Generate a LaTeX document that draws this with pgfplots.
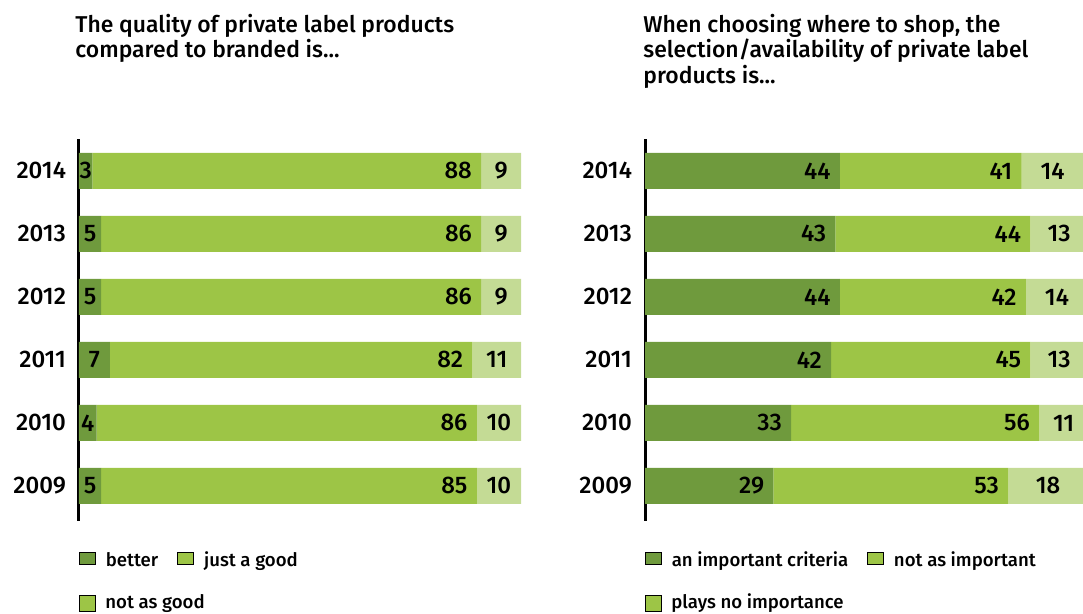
\documentclass[border=0pt]{standalone}
\usepackage{fontspec}
\setmainfont{Fira Sans}[BoldFont={Fira Sans Medium}]
\usepackage{pgfplots}
\usepackage{pgfplotstable}
\pgfplotsset{compat=1.18}
\definecolor{cdark}{HTML}{6F9A3D}
\definecolor{cmid}{HTML}{9DC546}
\definecolor{clight}{HTML}{C4DB95}

\pgfplotstableread{
y d m l
5 3 88 9
4 5 86 9
3 5 86 9
2 7 82 11
1 4 86 10
0 5 85 10
}\quality
\pgfplotstableread{
y d m l
5 44 41 14
4 43 44 13
3 44 42 14
2 42 45 13
1 33 56 11
0 29 53 18
}\selection

\tikzset{lab/.style={font=\fontsize{12}{14}\selectfont\bfseries, inner sep=0pt}}
\pgfplotsset{
  geom/.style={
    scale only axis, width=221pt, height=190.6pt,
    anchor=south west,
    xmin=0, xmax=100, ymin=-0.55, ymax=5.5,
    clip=false,
    legend cell align=left,
    legend style={draw=none, fill=none, inner sep=0pt, outer sep=0pt,
      at={(0,0)}, anchor=north west,
      font=\fontsize{9.3}{11}\selectfont\bfseries,
      nodes={inner xsep=0pt, inner ysep=0pt, text height=7.5pt, text depth=2pt},
      /tikz/every odd column/.append style={column sep=5pt},
      /tikz/every even column/.append style={column sep=9.5pt}},
    legend image code/.code={\fill[##1] (0pt,-3.9pt) rectangle (7.8pt,3.9pt);},
  },
  panel/.style={geom,
    xbar stacked, bar width=18pt,
    axis x line=none, axis y line*=left,
    y axis line style={line width=1.5pt, black},
    ytick={0,1,2,3,4,5},
    yticklabels={2009,2010,2011,2012,2013,2014},
    major tick length=0pt,
    yticklabel style={font=\fontsize{12}{14}\selectfont\bfseries, xshift=-3pt},
    legend columns=-1,
    legend style={yshift=-15.3pt},
  },
  ov/.style={geom, hide axis,
    legend style={yshift=-36.6pt}},
  lbl/.style={draw=none, mark=none, nodes near coords, point meta=explicit symbolic,
    nodes near coords style={lab, anchor=center}},
  lblr/.style={draw=none, mark=none, nodes near coords, point meta=explicit symbolic,
    nodes near coords style={lab, anchor=east, xshift=-4.5pt}},
}

\begin{document}
\begin{tikzpicture}
\useasboundingbox (0,0) rectangle (541.5pt,307pt);

% titles
\tikzset{ttl/.style={anchor=base west, inner sep=0pt, font=\fontsize{11.45}{13}\selectfont\bfseries}}
\node[ttl] at (37.5pt,290.5pt) {The quality of private label products};
\node[ttl] at (37.5pt,278pt) {compared to branded is...};
\node[ttl] at (321.5pt,290.5pt) {When choosing where to shop, the};
\node[ttl] at (321.5pt,278pt) {selection/availability of private label};
\node[ttl] at (321.5pt,265.3pt) {products is...};

% left panel
\begin{axis}[panel, at={(39.5pt,46.7pt)}]
\addplot[fill=cdark, draw=none, forget plot] table[x=d, y=y] {\quality};
\addplot[fill=cmid, draw=none, forget plot] table[x=m, y=y] {\quality};
\addplot[fill=clight, draw=none, forget plot] table[x=l, y=y] {\quality};
\addlegendimage{fill=cdark}
\addlegendentry{better}
\addlegendimage{fill=cmid}
\addlegendentry{just a good}
\end{axis}
\begin{axis}[ov, at={(39.5pt,46.7pt)}]
\addplot[lbl, forget plot] table[x expr=\thisrow{d}/2, y=y, meta=d] {\quality};
\addplot[lblr, forget plot] table[x expr=\thisrow{d}+\thisrow{m}, y=y, meta=m] {\quality};
\addplot[lbl, forget plot] table[x expr=\thisrow{d}+\thisrow{m}+\thisrow{l}/2, y=y, meta=l] {\quality};
\addlegendimage{fill=cmid}
\addlegendentry{not as good}
\end{axis}

% right panel
\begin{axis}[panel, at={(322.5pt,46.7pt)}, width=221.5pt]
\addplot[fill=cdark, draw=none, forget plot] table[x=d, y=y] {\selection};
\addplot[fill=cmid, draw=none, forget plot] table[x=m, y=y] {\selection};
\addplot[fill=clight, draw=none, forget plot] table[x=l, y=y] {\selection};
\addlegendimage{fill=cdark}
\addlegendentry{an important criteria}
\addlegendimage{fill=cmid}
\addlegendentry{not as important}
\end{axis}
\begin{axis}[ov, at={(322.5pt,46.7pt)}, width=221.5pt]
\addplot[lblr, forget plot] table[x=d, y=y, meta=d] {\selection};
\addplot[lblr, forget plot] table[x expr=\thisrow{d}+\thisrow{m}, y=y, meta=m] {\selection};
\addplot[lbl, forget plot] table[x expr=\thisrow{d}+\thisrow{m}+\thisrow{l}/2, y=y, meta=l] {\selection};
\addlegendimage{fill=cmid}
\addlegendentry{plays no importance}
\end{axis}
\end{tikzpicture}
\end{document}
